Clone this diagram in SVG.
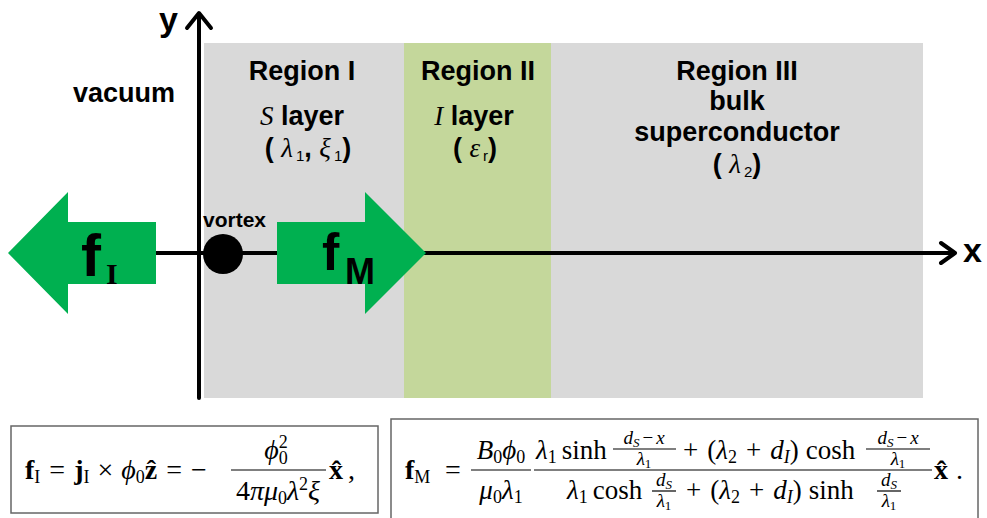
<svg xmlns="http://www.w3.org/2000/svg" width="987" height="518" viewBox="0 0 987 518">
<style>
.lbl{font-family:"Liberation Sans",Arial,sans-serif;font-weight:bold;font-size:27px;fill:#000}
.gk{font-family:"Liberation Serif","Times New Roman",serif;font-style:italic;font-weight:normal}
.sub{font-family:"Liberation Sans",Arial,sans-serif;font-weight:normal;font-size:15px}
.ax{stroke:#000;stroke-width:4;fill:none;stroke-linecap:round;stroke-linejoin:round}
.arr{fill:#00b050}
.m{font-family:"Liberation Serif","Times New Roman",serif;font-size:27px;fill:#000}
.m28{font-size:28px}
.ms{font-family:"Liberation Serif","Times New Roman",serif;font-size:18px;fill:#000}
.sm{font-family:"Liberation Serif","Times New Roman",serif;font-size:19px;fill:#000}
.ssm{font-size:13px}
.i{font-style:italic}
.b{font-weight:bold}
.bar{stroke:#000;stroke-width:1.2}
.box{fill:#fff;stroke:#666;stroke-width:1.5}
</style>
<rect width="987" height="518" fill="#fff"/>
<g id="regions">
  <rect id="region1" x="204" y="43" width="200" height="355" fill="#d9d9d9"/>
  <rect id="region2" x="404" y="43" width="147" height="355" fill="#c4d79b"/>
  <rect id="region3" x="551" y="43" width="372" height="355" fill="#d9d9d9"/>
</g>
<g id="labels">
  <text class="lbl" x="124" y="102" text-anchor="middle">vacuum</text>
  <text class="lbl" x="302" y="80" text-anchor="middle">Region I</text>
  <text class="lbl" x="302" y="125" text-anchor="middle"><tspan class="gk">S</tspan> layer</text>
  <text class="lbl" x="308" y="157" text-anchor="middle">( <tspan class="gk">λ</tspan><tspan class="sub" dx="3" dy="4">1</tspan><tspan dy="-4">, </tspan><tspan class="gk">ξ</tspan><tspan class="sub" dx="3" dy="4">1</tspan><tspan dy="-4">)</tspan></text>
  <text class="lbl" x="478" y="80" text-anchor="middle">Region II</text>
  <text class="lbl" x="474" y="125" text-anchor="middle"><tspan class="gk">I</tspan> layer</text>
  <text class="lbl" x="475" y="157" text-anchor="middle">( <tspan class="gk">ε</tspan><tspan class="sub" dx="3" dy="4">r</tspan><tspan dy="-4">)</tspan></text>
  <text class="lbl" x="737" y="80" text-anchor="middle">Region III</text>
  <text class="lbl" x="737" y="110" text-anchor="middle">bulk</text>
  <text class="lbl" x="737" y="141" text-anchor="middle">superconductor</text>
  <text class="lbl" x="737" y="173" text-anchor="middle">( <tspan class="gk">λ</tspan><tspan class="sub" dx="3" dy="4">2</tspan><tspan dy="-4">)</tspan></text>
</g>
<g id="connectors">
  <line class="ax" x1="150" y1="253" x2="953" y2="253"/>
  <polyline class="ax" points="941,243 955,253 941,263"/>
  <line class="ax" x1="199" y1="398" x2="199" y2="14"/>
  <polyline class="ax" points="187,28 199,13 211,28"/>
  <text class="lbl" x="963" y="262" style="font-size:34px">x</text>
  <text class="lbl" x="159" y="31" style="font-size:34px">y</text>
</g>
<g id="fI">
  <polygon class="arr" points="8,253 68,192 68,222 156,222 156,284 68,284 68,314"/>
  <text class="lbl" x="81" y="276" style="font-size:60px">f</text>
  <text x="106" y="284" style="font-family:'Liberation Serif',serif;font-weight:bold;font-size:30px">I</text>
</g>
<g id="vortex">
  <circle cx="223" cy="254" r="20" fill="#000"/>
  <text class="lbl" x="203" y="227" style="font-size:21px">vortex</text>
</g>
<g id="fM">
  <polygon class="arr" points="277,222 365,222 365,192 426,253 365,314 365,284 277,284"/>
  <text class="lbl" x="322" y="270" style="font-size:52px">f</text>
  <text class="lbl" x="345" y="284" style="font-size:36px">M</text>
</g>
<g id="eqI">
  <rect class="box" x="11" y="426" width="367" height="87"/>
  <text class="m m28" x="25" y="479"><tspan class="b">f</tspan><tspan class="ms" dy="4">I</tspan><tspan dy="-4" dx="9">=</tspan><tspan dx="9" class="b">j</tspan><tspan class="ms" dy="4">I</tspan><tspan dy="-4" dx="8">×</tspan><tspan dx="8" class="i">ϕ</tspan><tspan class="ms" dy="4">0</tspan><tspan dy="-4" class="b">ẑ</tspan><tspan dx="9">=</tspan><tspan dx="9">−</tspan></text>
  <text class="m m28" x="276" y="459" text-anchor="middle"><tspan class="i">ϕ</tspan><tspan class="ms" dy="-11">2</tspan><tspan class="ms" dx="-9" dy="16">0</tspan></text>
  <line class="bar" x1="231" y1="470" x2="326" y2="470"/>
  <text class="m m28" x="278" y="500" text-anchor="middle">4<tspan class="i">πμ</tspan><tspan class="ms" dy="4">0</tspan><tspan class="i" dy="-4">λ</tspan><tspan class="ms" dy="-10">2</tspan><tspan class="i" dy="10">ξ</tspan></text>
  <text class="m m28 b" x="329" y="479">x̂</text>
  <text class="m m28" x="348" y="479">,</text>
</g>
<g id="eqM">
  <rect class="box" x="391" y="419" width="587" height="110"/>
  <text class="m m28" x="405" y="479"><tspan class="b">f</tspan><tspan class="ms" dy="4">M</tspan></text>
  <text class="m m28" x="445" y="479">=</text>
  <text class="m" x="501" y="459" text-anchor="middle"><tspan class="i">B</tspan><tspan class="ms" dy="4">0</tspan><tspan class="i" dy="-4">ϕ</tspan><tspan class="ms" dy="4">0</tspan></text>
  <line class="bar" x1="471" y1="470" x2="531" y2="470"/>
  <text class="m" x="501" y="499" text-anchor="middle"><tspan class="i">μ</tspan><tspan class="ms" dy="4">0</tspan><tspan class="i" dy="-4">λ</tspan><tspan class="ms" dy="4">1</tspan></text>
  <line class="bar" x1="534" y1="470" x2="932" y2="470"/>
  <text class="m" x="536" y="459"><tspan class="i">λ</tspan><tspan class="ms" dy="4">1</tspan><tspan dy="-4" dx="5">sinh</tspan></text>
  <text class="sm" x="644" y="444" text-anchor="middle"><tspan class="i">d</tspan><tspan class="i ssm" dy="3">S</tspan><tspan dy="-3" dx="3">−</tspan><tspan class="i" dx="3">x</tspan></text>
  <line class="bar" x1="613" y1="449" x2="676" y2="449"/>
  <text class="sm" x="644" y="465" text-anchor="middle"><tspan class="i">λ</tspan><tspan class="ssm" dy="3">1</tspan></text>
  <text class="m" x="683" y="459">+<tspan dx="9">(</tspan><tspan class="i">λ</tspan><tspan class="ms" dy="4">2</tspan><tspan dy="-4" dx="9">+</tspan><tspan class="i" dx="9">d</tspan><tspan class="ms i" dy="4">I</tspan><tspan dy="-4">)</tspan><tspan dx="7">cosh</tspan></text>
  <text class="sm" x="898" y="444" text-anchor="middle"><tspan class="i">d</tspan><tspan class="i ssm" dy="3">S</tspan><tspan dy="-3" dx="3">−</tspan><tspan class="i" dx="3">x</tspan></text>
  <line class="bar" x1="866" y1="449" x2="930" y2="449"/>
  <text class="sm" x="898" y="465" text-anchor="middle"><tspan class="i">λ</tspan><tspan class="ssm" dy="3">1</tspan></text>
  <text class="m" x="567" y="499"><tspan class="i">λ</tspan><tspan class="ms" dy="4">1</tspan><tspan dy="-4" dx="5">cosh</tspan></text>
  <text class="sm" x="664" y="486" text-anchor="middle"><tspan class="i">d</tspan><tspan class="i ssm" dy="3">S</tspan></text>
  <line class="bar" x1="652" y1="491" x2="676" y2="491"/>
  <text class="sm" x="664" y="507" text-anchor="middle"><tspan class="i">λ</tspan><tspan class="ssm" dy="3">1</tspan></text>
  <text class="m" x="686" y="499">+<tspan dx="9">(</tspan><tspan class="i">λ</tspan><tspan class="ms" dy="4">2</tspan><tspan dy="-4" dx="9">+</tspan><tspan class="i" dx="9">d</tspan><tspan class="ms i" dy="4">I</tspan><tspan dy="-4">)</tspan><tspan dx="7">sinh</tspan></text>
  <text class="sm" x="889" y="486" text-anchor="middle"><tspan class="i">d</tspan><tspan class="i ssm" dy="3">S</tspan></text>
  <line class="bar" x1="877" y1="491" x2="901" y2="491"/>
  <text class="sm" x="889" y="507" text-anchor="middle"><tspan class="i">λ</tspan><tspan class="ssm" dy="3">1</tspan></text>
  <text class="m m28 b" x="934" y="479">x̂</text>
  <text class="m m28" x="956" y="479">.</text>
</g>
</svg>
